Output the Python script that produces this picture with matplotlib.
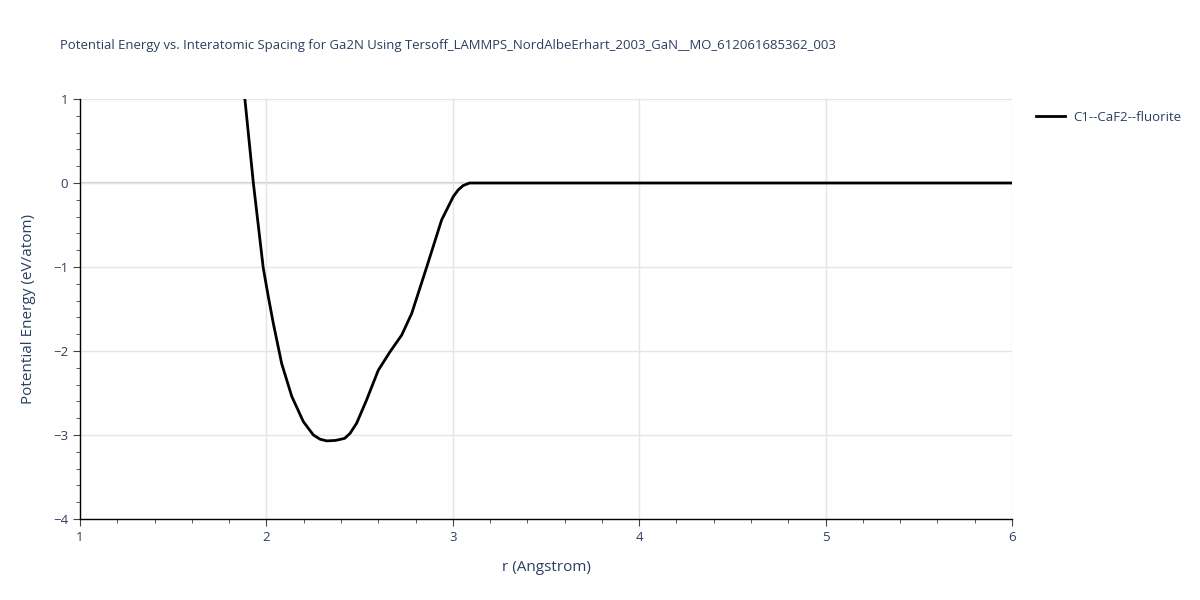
import matplotlib
matplotlib.use('Agg')
import matplotlib.pyplot as plt
from matplotlib.ticker import MultipleLocator

file_out = 'out.png'

# curve
r = [1.885, 1.93, 1.983, 2.01, 2.037, 2.082, 2.136, 2.198, 2.252, 2.288, 2.323, 2.37, 2.42,
     2.449, 2.484, 2.538, 2.60, 2.663, 2.726, 2.78, 2.86, 2.94, 3.003, 3.03, 3.056, 3.09,
     3.2, 4.0, 5.0, 6.0]
energy = [0.99, 0.0, -1.01, -1.35, -1.67, -2.15, -2.54, -2.84, -3.0, -3.05, -3.07, -3.065,
          -3.04, -2.98, -2.86, -2.58, -2.23, -2.01, -1.81, -1.55, -1.0, -0.44, -0.16, -0.08,
          -0.03, 0.0, 0.0, 0.0, 0.0, 0.0]
series_name = 'C1--CaF2--fluorite'
title = 'Potential Energy vs. Interatomic Spacing for Ga2N Using Tersoff_LAMMPS_NordAlbeErhart_2003_GaN__MO_612061685362_003'

text_col = '#2a3f5f'
plt.rcParams['font.family'] = ['Open Sans', 'DejaVu Sans']

fig = plt.figure(figsize=(12, 6), dpi=100)
ax = fig.add_axes([80 / 1200, 1 - 519 / 600, 932 / 1200, 420 / 600])

ax.plot(r, energy, color='black', linewidth=2, label=series_name, zorder=3)
ax.axhline(0, color='#cccccc', linewidth=1.5, zorder=1)

ax.set_xlim(1, 6)
ax.set_ylim(-4, 1)
ax.xaxis.set_major_locator(MultipleLocator(1))
ax.xaxis.set_minor_locator(MultipleLocator(0.2))
ax.yaxis.set_major_locator(MultipleLocator(1))
ax.yaxis.set_minor_locator(MultipleLocator(0.2))
ax.grid(True, which='major', color='#e5e5e5', linewidth=1, zorder=0)

for s in ['top', 'right']:
    ax.spines[s].set_visible(False)
for s in ['left', 'bottom']:
    ax.spines[s].set_color('black')
    ax.spines[s].set_linewidth(1)
ax.tick_params(which='major', direction='out', length=5, color='#444444', labelcolor=text_col, labelsize=9.5)
ax.tick_params(which='minor', direction='out', length=3, color='#444444')

ax.set_xlabel('r (Angstrom)', color=text_col, fontsize=11, labelpad=12)
ax.set_ylabel('Potential Energy (eV/atom)', color=text_col, fontsize=11, labelpad=12)
fig.text(60 / 1200, 1 - 45 / 600, title, color=text_col, fontsize=9.45, va='center', ha='left')

ax.legend(loc='upper left', bbox_to_anchor=(1.013, 1.0), frameon=False,
          fontsize=9.5, labelcolor=text_col, handlelength=2.2, handletextpad=0.6)

fig.savefig(file_out, dpi=100)
